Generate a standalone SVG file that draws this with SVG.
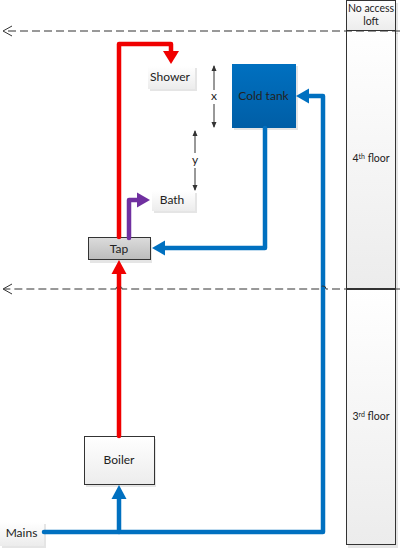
<svg xmlns="http://www.w3.org/2000/svg" width="400" height="548" viewBox="0 0 400 548">
<style>
text{font-family:Lato,"Open Sans","Liberation Sans",sans-serif;font-size:12px;fill:#222;text-anchor:middle}
.sm{font-size:10.500px}
.sup{font-size:7px}
.pipe{fill:none;stroke-width:4.500;stroke-linejoin:round;stroke-linecap:round}
.dash{fill:none;stroke:#333;stroke-width:1;stroke-dasharray:8 4}
.dim{fill:none;stroke:#333;stroke-width:1}
.sh{fill:#000;opacity:.1}
.bd{stroke:#333;stroke-width:1}
</style>
<defs>
<linearGradient id="w" x1="0" y1="0" x2="0" y2="1"><stop offset="0" stop-color="#fff"/><stop offset="1" stop-color="#ececec"/></linearGradient>
<linearGradient id="g" x1="0" y1="0" x2="0" y2="1"><stop offset="0" stop-color="#dcdcdc"/><stop offset="1" stop-color="#bcbcbc"/></linearGradient>
<linearGradient id="b" x1="0" y1="0" x2="0" y2="1"><stop offset="0" stop-color="#0070c0"/><stop offset="1" stop-color="#005ea6"/></linearGradient>
</defs>
<g id="floor-loft"><rect class="sh" x="348" y="3" width="50" height="31"/><rect class="bd" x="346.500" y="0.500" width="49" height="30" fill="url(#w)"/><text class="sm" x="371" y="12">No access</text><text class="sm" x="371" y="25">loft</text></g>
<g id="floor-4"><rect class="sh" x="348" y="33" width="50" height="259"/><rect class="bd" x="346.500" y="30.500" width="49" height="258" fill="url(#w)"/><text class="sm" x="371" y="162">4<tspan class="sup" dy="-3">th</tspan><tspan dy="3"> floor</tspan></text></g>
<g id="floor-3"><rect class="sh" x="348" y="292" width="50" height="256"/><rect class="bd" x="346.500" y="289.500" width="49" height="255" fill="url(#w)"/><text class="sm" x="371" y="420">3<tspan class="sup" dy="-3">rd</tspan><tspan dy="3"> floor</tspan></text></g>
<g id="shower"><rect class="sh" x="150" y="68" width="47" height="23"/><rect x="148" y="66" width="47" height="23" fill="url(#w)"/><text x="170" y="81">Shower</text></g>
<g id="bath"><rect class="sh" x="154" y="193" width="43" height="20"/><rect x="152" y="191" width="43" height="20" fill="url(#w)"/><text x="172" y="204">Bath</text></g>
<g id="cold-tank"><rect class="sh" x="234" y="66" width="64" height="64"/><rect x="232" y="64" width="64" height="64" fill="url(#b)"/><text x="263.500" y="100">Cold tank</text></g>
<g id="tap"><rect class="sh" x="90" y="240" width="62" height="23"/><rect class="bd" x="88.500" y="237.500" width="62" height="22" fill="url(#g)"/><text x="119" y="253">Tap</text></g>
<g id="boiler"><rect class="sh" x="86" y="439" width="70" height="48"/><rect class="bd" x="84.500" y="436.500" width="70" height="48" fill="url(#w)"/><text x="119" y="464">Boiler</text></g>
<g id="mains"><rect class="sh" x="2" y="524" width="44" height="24"/><rect x="0" y="522" width="44" height="24" fill="url(#w)"/><text x="21.500" y="537">Mains</text></g>
<g id="connectors">
<path class="dash" d="M400 31H4"/><path class="dim" d="M12 26L3 31L12 36"/>
<path class="pipe" stroke="#0070c0" d="M44 532H323V96H306"/>
<path fill="#0070c0" d="M296 96L309 88.500V103.500Z"/>
<path class="pipe" stroke="#0070c0" d="M119 532V497"/>
<path fill="#0070c0" d="M119 485L126.500 499H111.500Z"/>
<path class="pipe" stroke="#0070c0" d="M265 128V248H164"/>
<path fill="#0070c0" d="M152 248L165 240.500V255.500Z"/>
<path class="pipe" stroke="#f00000" d="M119 436V272"/>
<path fill="#f00000" d="M119 260L126.500 274H111.500Z"/>
<path class="pipe" stroke="#f00000" stroke-linecap="butt" d="M119 237V44H171V54"/>
<path fill="#f00000" d="M171 64L163 51H179Z"/>
<path class="pipe" stroke="#7030a0" stroke-linecap="butt" d="M129 238V200H140"/>
<path fill="#7030a0" d="M150 200L137 192.500V207.500Z"/>
<path class="dash" d="M400 289H326a3 3 0 0 0 -6 0H122a3 3 0 0 0 -6 0H4"/><path class="dim" d="M12 284L3 289L12 294"/>
<path class="dim" d="M214 66V90M214 104V127"/>
<path fill="#333" d="M214 65L211.500 71H216.500ZM214 128L211.500 122H216.500Z"/>
<path class="dim" d="M195 131V153M195 168V190"/>
<path fill="#333" d="M195 130L192.500 136H197.500ZM195 191L192.500 185H197.500Z"/>
</g>
<g id="labels"><text x="214" y="100">x</text><text x="195" y="164">y</text></g>
</svg>
